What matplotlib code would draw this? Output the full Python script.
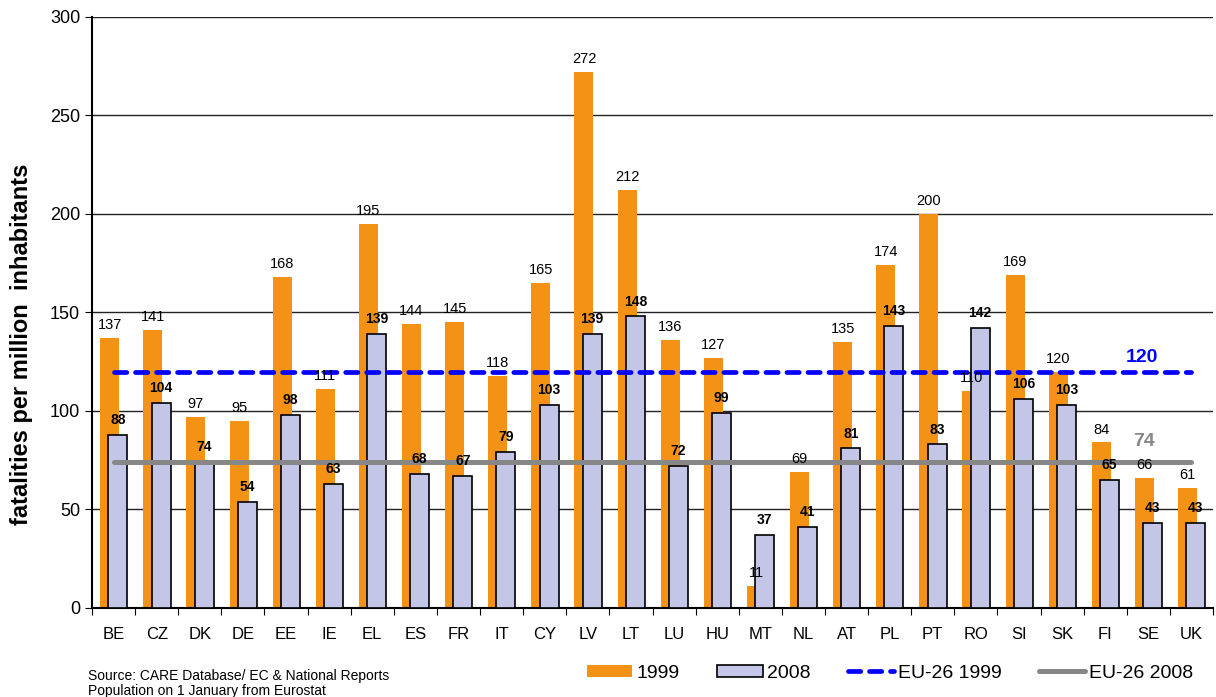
import numpy as np
import matplotlib
matplotlib.use('Agg')
import matplotlib.pyplot as plt
from matplotlib.patches import Patch
from matplotlib.lines import Line2D

plt.rcParams['font.family'] = ['Liberation Sans', 'DejaVu Sans']

countries = ['BE', 'CZ', 'DK', 'DE', 'EE', 'IE', 'EL', 'ES', 'FR', 'IT', 'CY', 'LV', 'LT',
             'LU', 'HU', 'MT', 'NL', 'AT', 'PL', 'PT', 'RO', 'SI', 'SK', 'FI', 'SE', 'UK']
rate_1999 = [137, 141, 97, 95, 168, 111, 195, 144, 145, 118, 165, 272, 212,
             136, 127, 11, 69, 135, 174, 200, 110, 169, 120, 84, 66, 61]
rate_2008 = [88, 104, 74, 54, 98, 63, 139, 68, 67, 79, 103, 139, 148,
             72, 99, 37, 41, 81, 143, 83, 142, 106, 103, 65, 43, 43]
eu26_1999 = 120
eu26_2008 = 74

orange = '#F39215'
lavender = '#C4C6E8'
blue = '#0000FF'
grey = '#878787'
dash = (2.6, 1.85)

fig = plt.figure(figsize=(12.16, 6.97), dpi=100)
ax = fig.add_axes([0.0757, 0.1277, 0.9218, 0.848])

x = np.arange(len(countries))
w = 0.44
ax.bar(x - 0.09, rate_1999, w, color=orange, zorder=2)
ax.bar(x + 0.10, rate_2008, w, color=lavender, edgecolor='black', linewidth=1.2, zorder=3)

for i, v in enumerate(rate_1999):
    ax.text(x[i] - 0.09, v + 3, str(v), ha='center', va='bottom', fontsize=10.5, zorder=5)
for i, v in enumerate(rate_2008):
    ax.text(x[i] + 0.10, v + 4, str(v), ha='center', va='bottom', fontsize=10,
            fontweight='bold', zorder=5)

ax.plot([x[0], x[-1]], [eu26_1999, eu26_1999], color=blue, lw=3.4,
        dashes=dash, dash_capstyle='round', zorder=4)
ax.plot([x[0], x[-1]], [eu26_2008, eu26_2008], color=grey, lw=3.6,
        solid_capstyle='round', zorder=4)
ax.text(23.85, eu26_1999 + 3, str(eu26_1999), color=blue, fontsize=14,
        fontweight='bold', ha='center', va='bottom', zorder=5)
ax.text(23.9, eu26_2008 + 6, str(eu26_2008), color=grey, fontsize=14,
        fontweight='bold', ha='center', va='bottom', zorder=5)

ax.set_xlim(-0.5, len(countries) - 0.5)
ax.set_ylim(0, 300)
ax.set_yticks(np.arange(0, 301, 50))
ax.tick_params(axis='y', labelsize=13, length=5, direction='out')
ax.yaxis.grid(True, color='#222222', linewidth=1)
ax.set_axisbelow(True)

# ticks sit between countries, labels at the centres
ax.set_xticks(np.arange(-0.5, len(countries), 1))
ax.set_xticklabels([])
ax.tick_params(axis='x', which='major', length=5, direction='out')
ax.set_xticks(x, minor=True)
ax.set_xticklabels(countries, minor=True)
ax.tick_params(axis='x', which='minor', length=0, labelsize=12, pad=14)

for s in ['top', 'right']:
    ax.spines[s].set_visible(False)
ax.spines['left'].set_linewidth(1.5)
ax.spines['bottom'].set_linewidth(1.5)

fig.text(0.018, 0.506, 'fatalities per million  inhabitants', fontsize=17, fontweight='bold',
         rotation=90, ha='center', va='center')

handles = [Patch(facecolor=orange, edgecolor='none'),
           Patch(facecolor=lavender, edgecolor='black', linewidth=1.2),
           Line2D([0], [0], color=blue, lw=3.4, dashes=dash, dash_capstyle='round'),
           Line2D([0], [0], color=grey, lw=3.6, solid_capstyle='round')]
fig.legend(handles, ['1999', '2008', 'EU-26 1999', 'EU-26 2008'], loc='center left',
           bbox_to_anchor=(0.468, 0.034), ncol=4, frameon=False, fontsize=14,
           handlelength=2.35, handleheight=0.55, handletextpad=0.2, columnspacing=1.95)

fig.text(0.072, 0.030, 'Source: CARE Database/ EC & National Reports', fontsize=10, va='center')
fig.text(0.072, 0.008, 'Population on 1 January from Eurostat', fontsize=10, va='center')

fig.savefig('out.png', dpi=100)
